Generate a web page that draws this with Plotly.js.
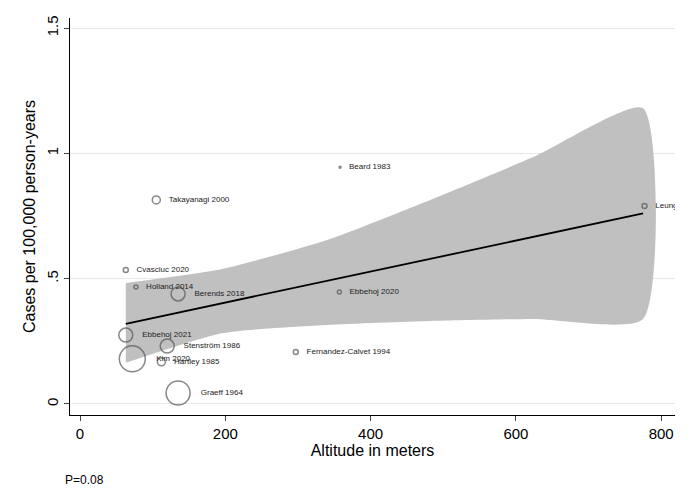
<!DOCTYPE html>
<html><head><script src="https://cdn.plot.ly/plotly-3.0.1.min.js"></script></head>
<body style="margin:0"><div id="c" style="width:693px;height:504px"></div>
<script>
const studies = ["Beard 1983","Takayanagi 2000","Leung 2020","Cvasciuc 2020","Holland 2014","Berends 2018","Ebbehoj 2020","Ebbehoj 2021","Stenström 1986","Kim 2020","Hartley 1985","Fernandez-Calvet 1994","Graeff 1964"];
const altitude = [358,105,777,63,77,135,357,63,120,72,112,297,135];
const rate = [0.945,0.814,0.79,0.535,0.467,0.439,0.447,0.275,0.231,0.18,0.168,0.207,0.044];
const weight = [2,8,5,5,4,14,4,14,14,26,8,5,24];
const fitX = [63,775];
const fitY = [0.32,0.76];
const bandX = [63,197,340,482,624,775];
const bandUpper = [0.483,0.54,0.654,0.814,0.985,1.18];
const bandLower = [0.164,0.283,0.315,0.331,0.339,0.339];
const traces = [
 {x:bandX.concat(bandX.slice().reverse()), y:bandUpper.concat(bandLower.slice().reverse()), fill:'toself', fillcolor:'#c0c0c0', line:{width:0,shape:'spline',smoothing:0.6}, mode:'lines', hoverinfo:'skip'},
 {x:fitX, y:fitY, mode:'lines', line:{color:'black',width:1.8}},
 {x:altitude, y:rate, mode:'markers+text', text:studies.map(s=>'   '+s), textposition:'middle right', textfont:{size:8,color:'#222',family:'Liberation Sans'},
  marker:{size:weight, color:'rgba(0,0,0,0)', line:{color:'#555',width:1.5}}}
];
const layout = {
 width:693,height:504,showlegend:false,paper_bgcolor:'white',plot_bgcolor:'white',
 margin:{l:70,r:18,t:18,b:89},
 font:{family:'Liberation Sans',color:'#000'},
 xaxis:{range:[-13.8,819],tickvals:[0,200,400,600,800],showgrid:false,zeroline:false,showline:true,linecolor:'black',ticks:'outside',ticklen:5,tickfont:{size:15},
   title:{text:'Altitude in meters',font:{size:16},standoff:2}},
 yaxis:{range:[-0.044,1.54],tickvals:[0,0.5,1,1.5],ticktext:['0','.5','1','1.5'],tickangle:-90,gridcolor:'#e8e8e8',zeroline:false,showline:true,linecolor:'black',ticks:'outside',ticklen:5,tickfont:{size:15},
   title:{text:'Cases per 100,000 person-years',font:{size:16},standoff:4}},
 annotations:[{text:'P=0.08',xref:'paper',yref:'paper',x:-0.012,y:-0.14,xanchor:'left',yanchor:'top',showarrow:false,font:{size:12}}]
};
Plotly.newPlot('c',traces,layout,{displayModeBar:false});
</script></body></html>
